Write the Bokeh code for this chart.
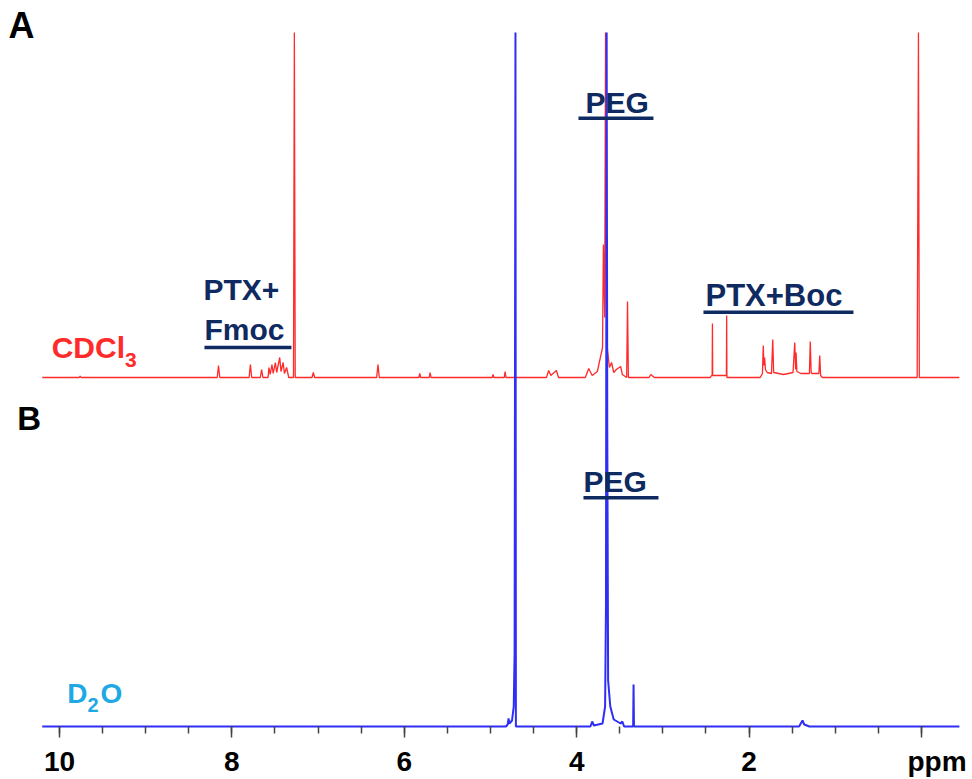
from bokeh.plotting import figure
from bokeh.models import Range1d, FixedTicker, Label, ColumnDataSource, LinearAxis
from bokeh.embed import file_html
from bokeh.resources import INLINE

# ---------------- data ----------------
# chemical shift axis (ppm), intensities in arbitrary units
TICKS = [0, 2, 4, 6, 8, 10]
TICK_LABELS = {0: "\u00a0\u00a0\u00a0\u00a0ppm", 2: "2", 4: "4", 6: "6", 8: "8", 10: "10"}

# (A) spectrum in CDCl3
red_ppm = [10.20, 9.77, 9.76, 9.75,
           8.17, 8.155, 8.14,
           7.80, 7.785, 7.77, 7.67, 7.655, 7.64,
           7.58, 7.57, 7.555, 7.535, 7.52, 7.495, 7.48, 7.445, 7.43, 7.405, 7.39, 7.365, 7.34,
           7.285, 7.275, 7.265,
           7.07, 7.055, 7.04,
           6.32, 6.305, 6.29,
           5.83, 5.82, 5.81, 5.71, 5.70, 5.69,
           4.98, 4.97, 4.96, 4.84, 4.83, 4.82,
           4.35, 4.325, 4.30, 4.235, 4.21,
           3.90, 3.86, 3.82, 3.76, 3.70, 3.69, 3.675, 3.665, 3.655, 3.645, 3.62,
           3.595, 3.57, 3.54, 3.49, 3.47, 3.42, 3.41, 3.40,
           3.16, 3.14, 3.10,
           2.45, 2.435, 2.428, 2.425, 2.422, 2.41, 2.27, 2.263, 2.26, 2.257, 2.25,
           1.87, 1.845, 1.835, 1.828, 1.82, 1.81, 1.79, 1.74, 1.725, 1.715, 1.60,
           1.49, 1.47, 1.46, 1.455, 1.445, 1.40, 1.30, 1.29, 1.28, 1.27,
           1.19, 1.18, 1.17, 1.15,
           0.05, 0.035, 0.025, -0.44]
red_int = [0, 0, 1.5, 0,
           0, 12, 0,
           0, 13, 0, 0, 8, 0,
           0, 10, 3, 13, 4, 15, 5, 20, 6, 15, 4, 10, 0,
           0, 345, 0,
           0, 5, 0,
           0, 13, 0,
           0, 4, 0, 0, 5, 0,
           0, 3, 0, 0, 6, 0,
           0, 7, 2, 7, 0,
           0, 9, 2, 6, 30, 133, 60, 345, 77, 30, 10,
           15, 5, 8, 11, 3, 0, 76, 0,
           0, 3, 0,
           0, 2, 2, 54, 2, 2, 2, 2, 62, 0, 0,
           0, 4, 32, 12, 20, 8, 5, 4, 38, 5, 3,
           5, 35, 8, 25, 6, 4, 4, 36, 5, 4,
           4, 22, 2, 0,
           0, 345, 0, 0]

# (B) spectrum in D2O
blue_ppm = [10.20, 4.82, 4.80, 4.79, 4.78, 4.75, 4.73, 4.72, 4.71, 4.705, 4.70,
            3.84, 3.82, 3.80, 3.70, 3.67, 3.66, 3.652, 3.645, 3.635, 3.61, 3.57,
            3.49, 3.47, 3.45, 3.345, 3.34, 3.335,
            1.42, 1.38, 1.36, 1.30, -0.44]
blue_int = [0, 0, 2, 8, 3, 6, 20, 73, 694, 0, 0,
            0, 5, 1, 3, 20, 120, 694, 300, 46, 20, 7,
            3, 5, 0, 0, 42, 0,
            0, 6, 2, 0, 0]

# ---------------- layout / style ----------------
RED_OFFSET = 349
RED = "#FF2A2A"
BLUE = "#2E2EF5"
NAVY = "#0E2A60"
SKY = "#1EA8E4"
FONT = "Liberation Sans"

p = figure(width=972, height=779, output_backend="svg", toolbar_location=None,
           x_range=Range1d(10.684, -0.592), y_range=Range1d(-53, 726),
           x_axis_location=None, y_axis_location=None,
           min_border_left=0, min_border_right=0, min_border_top=0, min_border_bottom=0)
p.outline_line_color = None
p.grid.visible = False

xa = LinearAxis(fixed_location=0)
xa.ticker = FixedTicker(ticks=TICKS, minor_ticks=[i * 0.5 for i in range(21)])
xa.major_label_overrides = TICK_LABELS
xa.axis_line_color = None
xa.major_tick_in = 0
xa.major_tick_out = 11
xa.minor_tick_in = 0
xa.minor_tick_out = 7
xa.major_tick_line_color = "#444444"
xa.minor_tick_line_color = "#444444"
xa.major_tick_line_width = 1.5
xa.minor_tick_line_width = 1.5
xa.major_label_text_font = FONT
xa.major_label_text_font_style = "bold"
xa.major_label_text_font_size = "28px"
xa.major_label_text_color = "black"
xa.major_label_standoff = 8
p.add_layout(xa, "below")

red_y = [v + RED_OFFSET for v in red_int]
p.line(red_ppm, red_y, line_color=RED, line_width=1.3)
p.line(blue_ppm, blue_int, line_color=BLUE, line_width=2)

# underlines for annotations
ul = ColumnDataSource(dict(x0=[8.318, 3.979, 2.529, 3.921],
                           x1=[7.309, 3.109, 0.789, 3.051],
                           y=[379, 608.3, 414.3, 228.7]))
p.segment(x0="x0", y0="y", x1="x1", y1="y", source=ul, line_color=NAVY, line_width=3.5)


def lab(x, y, text, size, color):
    # y is the wanted baseline; Bokeh draws a little lower, so lift it
    p.add_layout(Label(x=x, y=y + 0.37 * size, text=text, text_font=FONT,
                       text_font_style="bold", text_font_size=f"{size}px",
                       text_color=color, text_align="left", text_baseline="alphabetic"))


lab(10.59, 687.7, "A", 36, "black")
lab(10.49, 296, "B", 33, "black")
lab(10.09, 367.7, "CDCl", 30, RED)
lab(9.24, 359, "3", 21, RED)
lab(9.911, 23, "D", 28, SKY)
lab(9.675, 14, "2", 20, SKY)
lab(9.524, 23, "O", 28, SKY)
lab(8.329, 426, "PTX+", 30, NAVY)
lab(8.318, 386, "Fmoc", 30, NAVY)
lab(3.898, 612.7, "PEG", 30, NAVY)
lab(2.506, 420, "PTX+Boc", 31, NAVY)
lab(3.921, 234.3, "PEG", 30, NAVY)

open("out.html", "w").write(file_html(p, INLINE))
